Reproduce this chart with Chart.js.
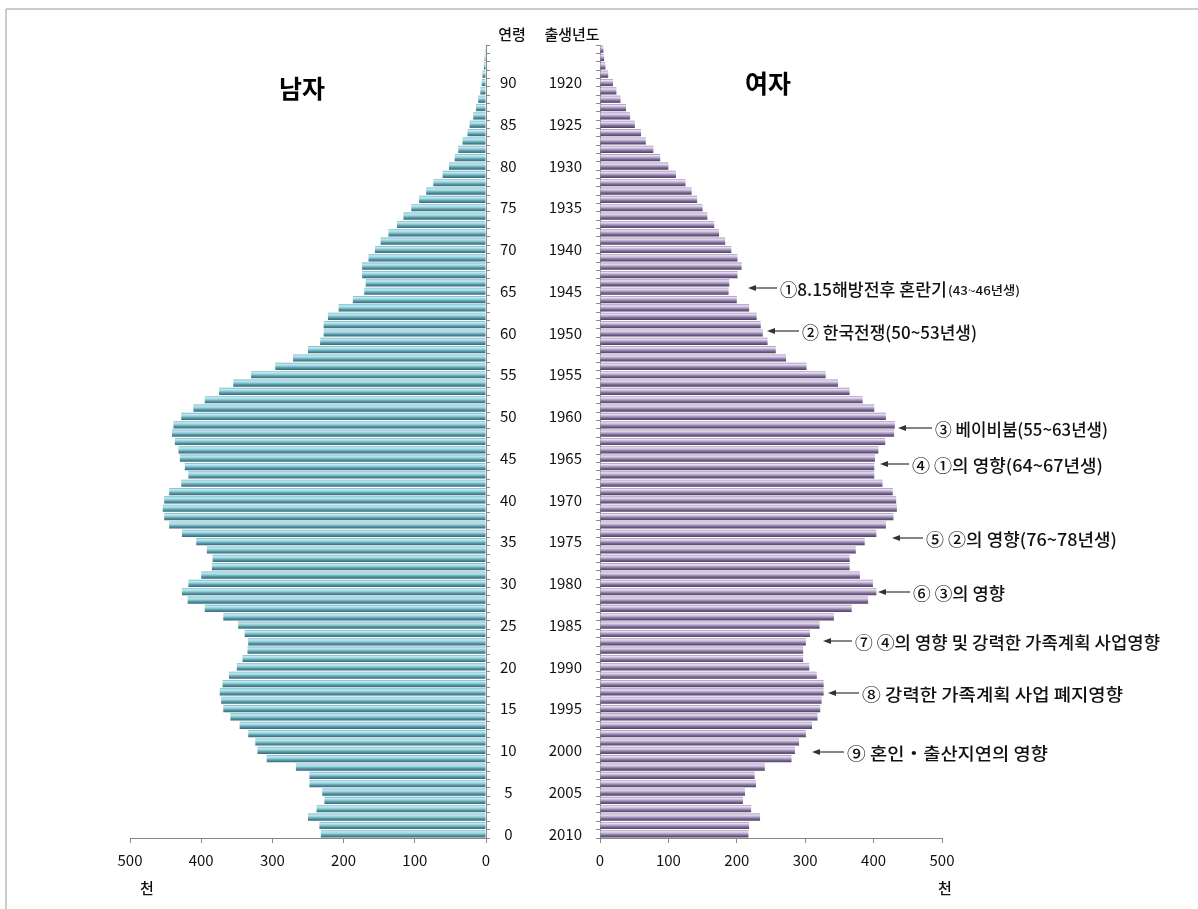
<!DOCTYPE html>
<html>
<head>
<meta charset="utf-8">
<script src="https://cdn.jsdelivr.net/npm/chart.js@4.4.0/dist/chart.umd.min.js"></script>
<style>
body { margin: 0; background: #fff; }
#wrap { position: relative; width: 1198px; height: 909px; overflow: hidden; }
canvas { position: absolute; top: 0; }
#male { left: 0; }
#female { left: 530px; }
svg { position: absolute; left: 0; top: 0; }
</style>
</head>
<body>
<div id="wrap">
  <canvas id="male" width="526" height="909"></canvas>
  <canvas id="female" width="442" height="909"></canvas>
  <svg width="1198" height="909" font-family="'Noto Sans CJK KR', sans-serif">
    <line x1="6" y1="9" x2="1198" y2="9" stroke="#bbb" stroke-width="1.5"/>
    <line x1="6" y1="9" x2="6" y2="909" stroke="#bbb" stroke-width="1.5"/>
    <text x="302" y="87" font-size="25" font-weight="bold" text-anchor="middle" dominant-baseline="central" fill="#000">남자</text>
    <text x="768" y="82" font-size="25" font-weight="bold" text-anchor="middle" dominant-baseline="central" fill="#000">여자</text>
    <text x="512" y="33" font-size="15" font-weight="500" text-anchor="middle" dominant-baseline="central" fill="#111">연령</text>
    <text x="572" y="33" font-size="15" font-weight="500" text-anchor="middle" dominant-baseline="central" fill="#111">출생년도</text>
    <text x="147" y="887" font-size="15" font-weight="500" text-anchor="middle" dominant-baseline="central" fill="#111">천</text>
    <text x="945" y="887" font-size="15" font-weight="500" text-anchor="middle" dominant-baseline="central" fill="#111">천</text>
    <g id="notes" font-size="17" font-weight="500" fill="#111" dominant-baseline="central"></g>
  </svg>
</div>
<script>
// age 0 .. 94, values in thousands (2010)
const ages = Array.from({ length: 95 }, (_, i) => i);
const ageTicks = [0, 5, 10, 15, 20, 25, 30, 35, 40, 45, 50, 55, 60, 65, 70, 75, 80, 85, 90];
const yearTicks = ['2010', '2005', '2000', '1995', '1990', '1985', '1980', '1975', '1970', '1965',
                   '1960', '1955', '1950', '1945', '1940', '1935', '1930', '1925', '1920'];
const maleValues = [
  232, 234, 250, 238, 227, 230, 248, 248, 267, 308,
  321, 324, 334, 346, 359, 369, 372, 374, 370, 361,
  350, 342, 335, 334, 339, 348, 369, 395, 419, 427,
  418, 400, 385, 384, 392, 407, 427, 445, 452, 454,
  452, 445, 428, 418, 423, 430, 432, 437, 441, 439,
  428, 411, 395, 375, 355, 330, 296, 271, 250, 233,
  228, 228, 222, 207, 187, 171, 169, 174, 174, 165,
  156, 148, 137, 125, 116, 105, 94, 84, 74, 61,
  52, 44, 39, 33, 26, 23, 18, 14, 11, 8,
  6, 5, 3, 2, 1
];
const femaleValues = [
  217, 218, 234, 221, 209, 212, 228, 226, 241, 280,
  285, 291, 301, 310, 318, 322, 324, 327, 327, 317,
  306, 297, 297, 301, 307, 321, 342, 368, 392, 404,
  399, 380, 365, 365, 374, 387, 404, 418, 429, 434,
  433, 428, 413, 401, 401, 402, 407, 417, 430, 431,
  418, 401, 384, 365, 348, 330, 302, 272, 257, 245,
  238, 235, 229, 218, 200, 188, 189, 201, 207, 201,
  192, 183, 174, 167, 157, 150, 142, 134, 125, 111,
  100, 88, 78, 67, 60, 51, 44, 38, 30, 24,
  19, 12, 8, 6, 5
];
const notes = [
  ['①8.15해방전후 혼란기', '(43~46년생)', 748, 288, 780, 167, 72],
  ['② 한국전쟁(50~53년생)', '', 767, 331, 802, 175, 0],
  ['③ 베이비붐(55~63년생)', '', 898, 428, 935, 173, 0],
  ['④  ①의 영향(64~67년생)', '', 880, 464, 912, 191, 0],
  ['⑤  ②의 영향(76~78년생)', '', 892, 538, 926, 191, 0],
  ['⑥ ③의 영향', '', 878, 592, 913, 92, 0],
  ['⑦  ④의 영향 및 강력한 가족계획 사업영향', '', 823, 641, 855, 305, 0],
  ['⑧ 강력한 가족계획 사업 폐지영향', '', 828, 693, 862, 261, 0],
  ['⑨ 혼인・출산지연의 영향', '', 812, 752, 847, 201, 0]
];

const FONT = "'Noto Sans CJK KR', sans-serif";
Chart.defaults.font.family = FONT;
Chart.defaults.color = '#111';

// vertical shading per bar, like the 3D bars of the original
function barGradient(stops) {
  return function (ctx) {
    const chart = ctx.chart;
    const yScale = chart.scales.y;
    if (ctx.type !== 'data' || !chart.chartArea || !yScale) return stops[2];
    const c = yScale.getPixelForValue(ctx.dataIndex);
    const h = yScale.height / ages.length * 0.86;
    const g = chart.ctx.createLinearGradient(0, c - h / 2, 0, c + h / 2);
    g.addColorStop(0, stops[0]);
    g.addColorStop(0.2, stops[1]);
    g.addColorStop(0.45, stops[2]);
    g.addColorStop(0.7, stops[3]);
    g.addColorStop(1, stops[4]);
    return g;
  };
}

function tickLabel(list) {
  return function (value, index) {
    const i = ageTicks.indexOf(ages[index]);
    return i >= 0 ? String(list[i]) : '';
  };
}

function makeChart(id, values, colors, isMale) {
  return new Chart(document.getElementById(id), {
    type: 'bar',
    data: {
      labels: ages,
      datasets: [{
        data: values,
        backgroundColor: barGradient(colors),
        borderWidth: 0,
        barPercentage: 0.86,
        categoryPercentage: 1.0
      }]
    },
    options: {
      indexAxis: 'y',
      responsive: false,
      animation: false,
      layout: { padding: isMale ? { left: 130, top: 45, right: 0, bottom: 0 } : { left: 0, top: 45, right: 30, bottom: 0 } },
      plugins: { legend: { display: false }, tooltip: { enabled: false } },
      scales: {
        x: {
          min: 0, max: 500, reverse: isMale,
          ticks: { stepSize: 100, padding: 8, font: { size: 15 } },
          grid: { drawOnChartArea: false, tickLength: 5, color: '#888' },
          border: { color: '#888' },
          afterFit(s) { s.height = 71; }
        },
        y: {
          position: isMale ? 'right' : 'left',
          reverse: true,
          ticks: {
            autoSkip: false,
            crossAlign: isMale ? 'center' : 'near',
            padding: isMale ? 10 : 14,
            font: { size: 15 },
            callback: tickLabel(isMale ? ageTicks : yearTicks)
          },
          grid: { drawOnChartArea: false, tickLength: 4, color: '#888' },
          border: { color: '#888' },
          afterFit(s) { s.width = isMale ? 40 : 70; }
        }
      }
    }
  });
}

makeChart('male', maleValues, ['#72b0be', '#c0ecf4', '#92d0dc', '#5a97a4', '#366a77'], true);
makeChart('female', femaleValues, ['#9b8bb1', '#ebe1f5', '#bbaad0', '#7c6c93', '#4f4066'], false);

// annotations with arrows
const g = document.getElementById('notes');
const NS = 'http://www.w3.org/2000/svg';
notes.forEach(([main, small, tip, y, tx, w, w2]) => {
  const line = document.createElementNS(NS, 'line');
  line.setAttribute('x1', tip + 4); line.setAttribute('x2', tx - 3);
  line.setAttribute('y1', y); line.setAttribute('y2', y);
  line.setAttribute('stroke', '#333'); line.setAttribute('stroke-width', '1.2');
  g.appendChild(line);
  const head = document.createElementNS(NS, 'polygon');
  head.setAttribute('points', `${tip},${y} ${tip + 8},${y - 3} ${tip + 8},${y + 3}`);
  head.setAttribute('fill', '#333');
  g.appendChild(head);
  const t = document.createElementNS(NS, 'text');
  t.setAttribute('x', tx); t.setAttribute('y', y);
  t.setAttribute('textLength', w); t.setAttribute('lengthAdjust', 'spacingAndGlyphs');
  t.textContent = main;
  g.appendChild(t);
  if (small) {
    const s = document.createElementNS(NS, 'text');
    s.setAttribute('x', tx + w + 1); s.setAttribute('y', y + 1);
    s.setAttribute('font-size', '12');
    s.setAttribute('textLength', w2); s.setAttribute('lengthAdjust', 'spacingAndGlyphs');
    s.textContent = small;
    g.appendChild(s);
  }
});
</script>
</body>
</html>
